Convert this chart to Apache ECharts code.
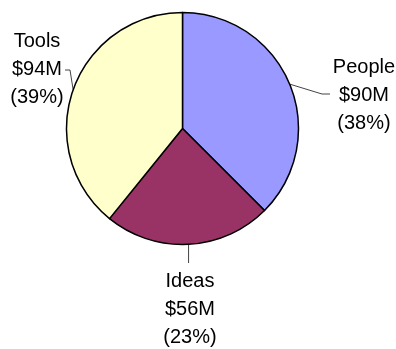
<!DOCTYPE html>
<html>
<head>
<meta charset="utf-8">
<script src="https://cdn.jsdelivr.net/npm/echarts@6/dist/echarts.min.js"></script>
<style>
  html, body { margin: 0; padding: 0; background: #fff; }
  #chart { width: 396px; height: 349px; }
</style>
</head>
<body>
<div id="chart"></div>
<script>
// 数据
var categories = ['People', 'Ideas', 'Tools'];
var values = [90, 56, 94];
var colors = ['#9999ff', '#993366', '#ffffcc'];

// 标签位置 (文字块中心) 和引线拐点
var labelCenters = [[364, 95], [190, 309], [37, 69]];
var lineBends = [
  [[322, 94], [330, 94]],
  [[189, 263]],
  [[70, 70], [65, 70]]
];

var myChart = echarts.init(document.getElementById('chart'));

var option = {
  animation: false,
  color: colors,
  series: [
    {
      type: 'pie',
      center: [182.5, 128.5],
      radius: 116,
      startAngle: 90,
      clockwise: true,
      avoidLabelOverlap: false,
      itemStyle: {
        borderColor: '#000',
        borderWidth: 1.5
      },
      label: {
        show: true,
        position: 'outside',
        color: '#000',
        fontFamily: 'Liberation Sans, Arial, sans-serif',
        fontSize: 20,
        lineHeight: 28,
        formatter: function (p) {
          return p.name + '\n$' + p.value + 'M\n(' + Math.round(p.percent) + '%)';
        }
      },
      labelLine: {
        show: true,
        lineStyle: { color: '#444', width: 1 }
      },
      labelLayout: function (params) {
        var i = params.dataIndex;
        var p0 = params.labelLinePoints ? params.labelLinePoints[0] : null;
        var pts = null;
        if (p0) {
          pts = [p0].concat(lineBends[i].map(function (b, k) {
            // 竖线保持与扇区中点同一x
            return (i === 1) ? [p0[0], b[1]] : b;
          }));
          if (pts.length === 2) pts.push(pts[1]);
        }
        return {
          x: labelCenters[i][0],
          y: labelCenters[i][1],
          align: 'center',
          verticalAlign: 'middle',
          labelLinePoints: pts
        };
      },
      emphasis: { disabled: true },
      data: categories.map(function (c, i) {
        return { name: c, value: values[i] };
      })
    }
  ]
};

myChart.setOption(option);
</script>
</body>
</html>
